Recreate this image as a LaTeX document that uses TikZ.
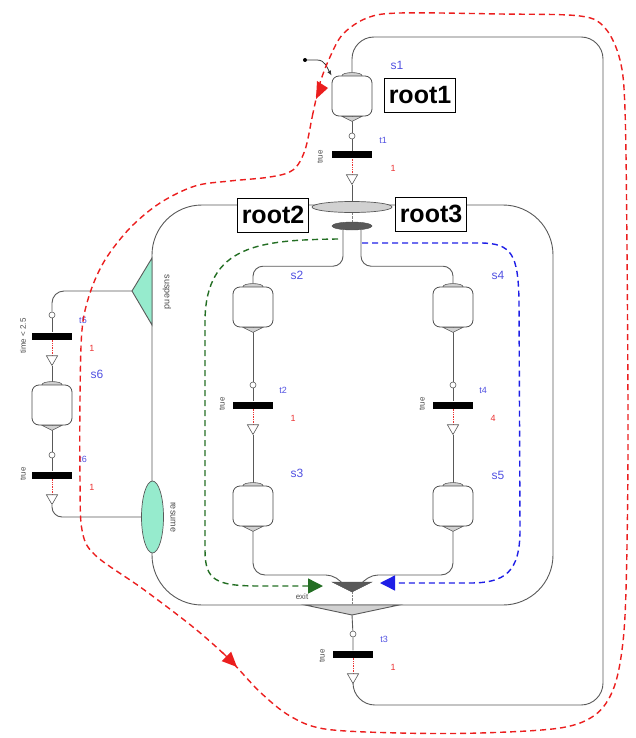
\documentclass[tikz,border=0pt]{standalone}
\usepackage{fontspec}
\setmainfont{Liberation Sans}
\usetikzlibrary{arrows.meta,shapes.geometric,backgrounds}
\definecolor{mint}{RGB}{150,235,205}
\definecolor{lblblue}{RGB}{80,80,225}
\definecolor{lblred}{RGB}{235,50,50}
\definecolor{pathred}{RGB}{235,30,30}
\definecolor{pathgreen}{RGB}{35,110,35}
\definecolor{pathblue}{RGB}{30,30,230}

\begin{document}
\begin{tikzpicture}[
  x=1pt,
  y=-1pt,
  flow/.style={draw=black!65, line width=0.9pt},
  fire/.style={draw=lblred, densely dotted, line width=0.7pt},
  stepcap/.style={draw=black!65, fill=black!18, line width=0.6pt, sharp corners},
  stepbox/.style={
    draw=black!70,
    fill=white,
    rounded corners=7pt,
    minimum width=40pt,
    minimum height=40pt,
    inner sep=0pt,
    line width=0.8pt,
    append after command={\pgfextra{
      \filldraw[stepcap] (\tikzlastnode.north) ellipse [x radius=10pt, y radius=3pt];
      \filldraw[stepcap] ([xshift=-10pt]\tikzlastnode.south) -- ([xshift=10pt]\tikzlastnode.south)
        -- ([yshift=-5pt]\tikzlastnode.south) -- cycle;}}
  },
  tin/.style={circle, draw=black!65, fill=white, minimum size=6pt, inner sep=0pt, line width=0.6pt},
  tbar/.style={fill=black, minimum width=40pt, minimum height=7pt, inner sep=0pt},
  tout/.style={regular polygon, regular polygon sides=3, shape border rotate=180,
    draw=black!65, fill=white, minimum size=13pt, inner sep=0pt, line width=0.6pt},
  rootbox/.style={draw=black, fill=white, line width=0.9pt, font=\fontsize{25}{25}\selectfont\bfseries,
    minimum width=71pt, minimum height=34pt, inner sep=1pt},
  sname/.style={font=\fontsize{12}{12}\selectfont, text=lblblue, inner sep=0pt},
  tname/.style={font=\fontsize{9}{9}\selectfont, text=lblblue, inner sep=0pt},
  prio/.style={font=\fontsize{9}{9}\selectfont, text=lblred, inner sep=0pt},
  guard/.style={font=\fontsize{8}{8}\selectfont, text=black!70, rotate=90, inner sep=0pt},
  sidelbl/.style={font=\fontsize{9}{9}\selectfont, text=black!70, rotate=-90, inner sep=0pt},
  tracepath/.style={dash pattern=on 6pt off 4pt, line width=1.4pt}
]
\useasboundingbox (0,0) rectangle (636,738);

\coordinate (join)   at (352,582);
\coordinate (exit)   at (352,605);
\coordinate (susp)   at (132,291);
\coordinate (loopbr) at (603,705);
\coordinate (looptr) at (603,37);

% parallel macro step
\draw[flow, rounded corners=50pt] (152,205) rectangle (553,605);
\filldraw[flow, fill=mint] (152,258) -- (susp) -- (152,325) -- cycle;
\filldraw[flow, fill=black!18] ([xshift=-47pt]exit) -- ([xshift=47pt]exit) -- ([yshift=-10pt]exit) -- cycle;
\filldraw[draw=black!70, fill=black!65] ([xshift=-20pt]join) -- ([xshift=20pt]join) -- ([yshift=-10pt]join) -- cycle;

\node[ellipse, draw=black!65, fill=black!18, minimum width=80pt, minimum height=11pt, inner sep=0pt, line width=0.7pt] (entry) at (352,207) {};
\node[ellipse, draw=black!70, fill=black!65, minimum width=40pt, minimum height=8pt, inner sep=0pt] (fork) at (352,226) {};
\node[ellipse, draw=black!65, fill=mint, minimum width=22pt, minimum height=72pt, inner sep=0pt, line width=0.7pt] (resume) at (152.5,517) {};

\node[rootbox] (root1) at (420,95)  {root1};
\node[rootbox] (root2) at (273,215) {root2};
\node[rootbox] (root3) at (431,214) {root3};

% steps
\node[stepbox] (s1) at (352,96)  {};
\node[stepbox] (s2) at (253,307) {};
\node[stepbox] (s3) at (253,506) {};
\node[stepbox] (s4) at (453,307) {};
\node[stepbox] (s5) at (453,506) {};
\node[stepbox] (s6) at (52,405)  {};

% transitions
\node[tin]  (t1in)  at (352,136) {};
\node[tbar] (t1)    at (352,155) {};
\node[tout] (t1out) at (352,178) {};
\node[tin]  (t2in)  at (253,385) {};
\node[tbar] (t2)    at (253,405) {};
\node[tout] (t2out) at (253,428) {};
\node[tin]  (t4in)  at (453,385) {};
\node[tbar] (t4)    at (453,405) {};
\node[tout] (t4out) at (453,428) {};
\node[tin]  (t3in)  at (353,634) {};
\node[tbar] (t3)    at (353,654) {};
\node[tout] (t3out) at (353,677) {};
\node[tin]  (t5in)  at (52,315) {};
\node[tbar] (t5)    at (52,336) {};
\node[tout] (t5out) at (52,359) {};
\node[tin]  (t6in)  at (52,455) {};
\node[tbar] (t6)    at (52,475) {};
\node[tout] (t6out) at (52,498) {};

\begin{scope}[on background layer]
\draw[flow] (s1) -- (t1in) -- (t1);
\draw[fire] (t1) -- (t1out);
\draw[flow] (t1out) -- (entry);
\draw[black!50, densely dotted] (entry) -- (fork);
\draw[flow, rounded corners=10pt] ([xshift=-9pt]fork.south) -- ++(0,36) -| (s2.north);
\draw[flow, rounded corners=10pt] ([xshift=9pt]fork.south) -- ++(0,36) -| (s4.north);
\draw[flow] (s2) -- (t2in) -- (t2);
\draw[fire] (t2) -- (t2out);
\draw[flow] (t2out) -- (s3);
\draw[flow] (s4) -- (t4in) -- (t4);
\draw[fire] (t4) -- (t4out);
\draw[flow] (t4out) -- (s5);
\draw[flow, rounded corners=12pt] (s3.south) |- ([xshift=-14pt,yshift=7pt]join) -- ([xshift=-9pt,yshift=-2pt]join);
\draw[flow, rounded corners=12pt] (s5.south) |- ([xshift=14pt,yshift=7pt]join) -- ([xshift=9pt,yshift=-2pt]join);
\draw[black!50, densely dotted] ([yshift=-10pt]join) -- (exit);
\draw[flow] ([yshift=-10pt]exit) -- (t3in) -- (t3);
\draw[fire] (t3) -- (t3out);
\draw[flow, rounded corners=22pt] (t3out.south) |- (loopbr) -- (looptr) -| (s1.north);
\draw[flow, rounded corners=12pt] (susp) -| (t5in);
\draw[flow] (t5in) -- (t5);
\draw[fire] (t5) -- (t5out);
\draw[flow] (t5out) -- (s6) -- (t6in) -- (t6);
\draw[fire] (t6) -- (t6out);
\draw[flow, rounded corners=10pt] (t6out.south) |- (resume.west);
\end{scope}

% labels
\node[sname] (s1name) at (397,65)  {s1};
\node[sname] (s2name) at (297,275) {s2};
\node[sname] (s3name) at (297,473) {s3};
\node[sname] (s4name) at (498,275) {s4};
\node[sname] (s5name) at (498,475) {s5};
\node[sname] (s6name) at (97,374)  {s6};
\node[tname] (t1name) at (383,140) {t1};
\node[tname] (t2name) at (283,390) {t2};
\node[tname] (t4name) at (483,390) {t4};
\node[tname] (t3name) at (384,639) {t3};
\node[tname] (t5name) at (83,320)  {t5};
\node[tname] (t6name) at (83,459)  {t6};
\node[prio] (t1prio) at (393,168) {1};
\node[prio] (t2prio) at (293,418) {1};
\node[prio] (t4prio) at (493,418) {4};
\node[prio] (t3prio) at (393,667) {1};
\node[prio] (t5prio) at (92,348)  {1};
\node[prio] (t6prio) at (92,487)  {1};
\node[guard] (t1guard) at (320,157) {true};
\node[guard] (t2guard) at (222,404) {true};
\node[guard] (t4guard) at (422,404) {true};
\node[guard] (t3guard) at (322,656) {true};
\node[guard] (t5guard) at (23,336)  {time < 2.5};
\node[guard] (t6guard) at (23,474)  {true};
\node[sidelbl] (suspname) at (167,292) {suspend};
\node[sidelbl] (resname)  at (173,517) {resume};
\node[font=\fontsize{8}{8}\selectfont, text=black!70, inner sep=0pt] (exitname) at (302,597) {exit};

% initial step
\node[circle, fill=black, minimum size=4pt, inner sep=0pt] (init) at (305,60) {};
\draw[black!80, line width=0.8pt, -{Latex[length=5pt,width=4pt]}] (init) -- ++(12,0) to[out=0,in=120] (s1.north west);

% traces
\draw[tracepath, pathred] plot[smooth cycle, tension=0.55] coordinates {
  (320,83) (313,113) (305,150) (293,170) (270,177) (230,181) (195,186) (160,203) (130,228)
  (105,260) (90,293) (82,330) (80,400) (80,480) (82,530) (95,555) (143,589) (193,627)
  (228,658) (260,692) (290,716) (325,729) (400,733) (480,733) (560,728) (595,715) (613,690)
  (622,650) (626,590) (628,450) (627,250) (625,110) (620,60) (605,28) (580,16) (500,14)
  (400,13) (367,18) (343,34) (330,57)};
\draw[pathred, line width=1.4pt, -{Triangle[length=15pt,width=13pt]}] (222,652) -- (237,667);
\fill[pathred] (317,81) -- (328,88) -- (316,99) -- cycle;
\draw[tracepath, pathgreen, -{Triangle[length=15pt,width=15pt]}] (338,239) .. controls (260,240) and (206,245) .. (205,320)
  -- (205,550) .. controls (205,580) and (215,586) .. (260,586) -- (323,586);
\draw[tracepath, pathblue, -{Triangle[length=15pt,width=15pt]}] (362,243) -- (480,243) .. controls (512,243) and (518,255) .. (519,300)
  -- (520,530) .. controls (520,572) and (505,583) .. (470,583) -- (380,583);
\end{tikzpicture}
\end{document}
